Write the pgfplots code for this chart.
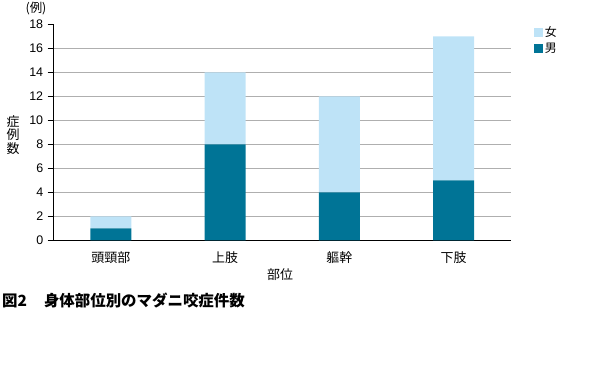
\documentclass[border=0pt]{standalone}
\usepackage{pgfplots}
\pgfplotsset{compat=1.18}
\usepackage{fontspec}
\setmainfont{Noto Sans CJK JP}
\newfontfamily\latin{Liberation Sans}
\definecolor{male}{RGB}{0,116,150}
\definecolor{female}{RGB}{190,227,247}
\definecolor{gridc}{RGB}{175,175,175}
\begin{document}
\begin{tikzpicture}[x=1bp,y=1bp]
\path[use as bounding box] (0,0) rectangle (595,370);
\begin{axis}[
  at={(47,108)}, anchor=south west,
  scale only axis, width=457bp, height=216bp,
  ybar stacked, bar width=41bp,
  xmin=-0.5, xmax=3.5, ymin=0, ymax=18,
  axis x line=bottom, axis y line=left,
  axis line style={-, black, line width=0.7pt},
  xtick={0,1,2,3},
  xticklabels={頭頸部,上肢,軀幹,下肢},
  x tick style={draw=none},
  extra x ticks={0.5,1.5,2.5,3.5},
  extra x tick labels={},
  extra x tick style={tick style={draw=black, line width=0.7pt}, major tick length=5bp, tick align=outside, grid=none},
  ytick={0,2,...,16},
  extra y ticks={18},
  extra y tick style={grid=none},
  y tick style={black, line width=0.7pt},
  major tick length=6bp, tick align=outside,
  ymajorgrids, grid style={gridc, line width=0.8pt},
  /pgf/number format/assume math mode=true,
  yticklabel style={font=\latin\fontsize{12.5}{14}\selectfont, xshift=-1bp},
  xticklabel style={font=\fontsize{13}{14}\selectfont, yshift=-2bp},
  legend style={at={(1.05,1.0)}, anchor=north west, draw=none, fill=none,
     font=\fontsize{12}{13}\selectfont, row sep=1bp, inner sep=0pt},
  legend image code/.code={\fill[#1,draw=none] (0bp,-4.5bp) rectangle (9bp,4.5bp);},
  reverse legend,
]
\addplot[fill=male, draw=none] coordinates {(0,1) (1,8) (2,4) (3,5)};
\addlegendentry{男}
\addplot[fill=female, draw=none] coordinates {(0,1) (1,6) (2,8) (3,12)};
\addlegendentry{女}
\end{axis}
\node[font=\fontsize{12.5}{14}\selectfont] at (36,361) {(例)};
\node[font=\fontsize{13}{13.5}\selectfont, align=center] at (13,235) {症\\例\\数};
\node[font=\fontsize{13}{14}\selectfont] at (280,95) {部位};
\node[font=\bfseries\fontsize{15.5}{17}\selectfont, anchor=west, inner sep=0pt] at (2,69) {図2\hspace{1.1em}身体部位別のマダニ咬症件数};
\end{tikzpicture}
\end{document}
